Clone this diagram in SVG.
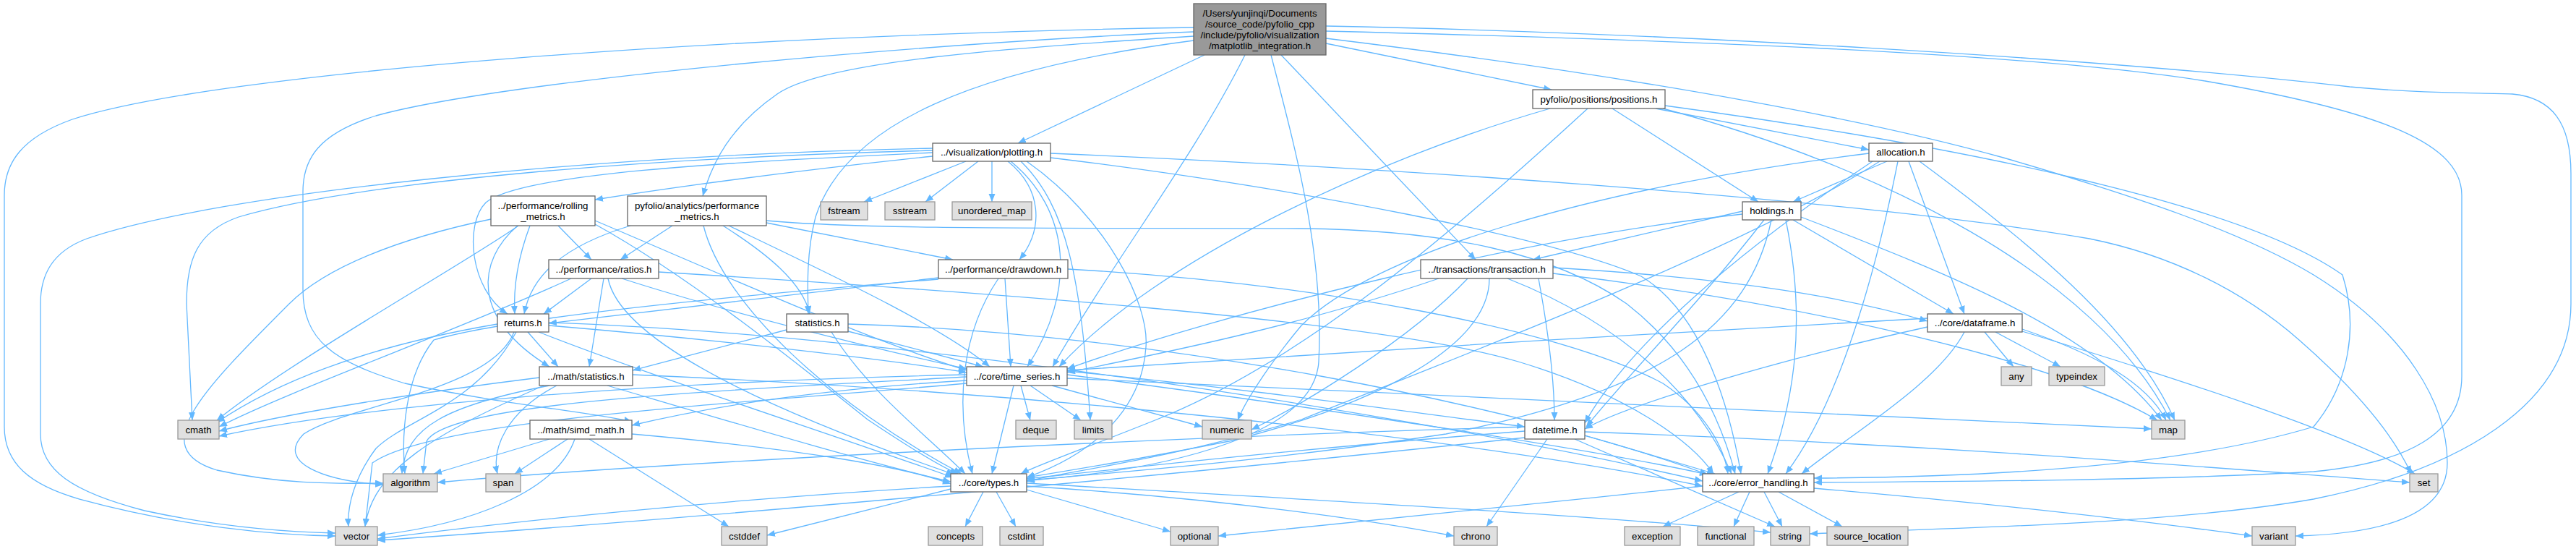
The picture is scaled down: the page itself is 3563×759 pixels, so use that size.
<svg xmlns="http://www.w3.org/2000/svg" width="3563" height="759" viewBox="0 0 3563 759">
<style>
.n rect{fill:#ffffff;stroke:#666666;stroke-width:1.3}
.x rect{fill:#e0e0e0;stroke:#999999;stroke-width:1.3}
.m rect{fill:#999999;stroke:#666666;stroke-width:1.3}
text{font-family:"Liberation Sans",Arial,Helvetica,sans-serif;font-size:13.3px;fill:#000000;text-anchor:middle}
#edges path{fill:none;stroke:#63b8ff;stroke-width:1.3;marker-end:url(#a)}
</style>
<defs><marker id="a" markerUnits="userSpaceOnUse" markerWidth="12" markerHeight="10" refX="11" refY="4.5" orient="auto"><path d="M0,0 L11,4.5 L0,9 z" fill="#63b8ff"/></marker></defs>
<rect width="3563" height="759" fill="#ffffff"/>
<g id="edges">
<path d="M1666,76 L1408,198"/>
<path d="M1651,50 C1400,66 1140,84 1075,130 C1010,175 985,225 972,271"/>
<path d="M1834,60 L2146,124"/>
<path d="M1772,76 L2041,359"/>
<path d="M1651,56 C1350,95 1170,170 1128,300 C1115,350 1117,400 1118,434"/>
<path d="M1722,76 C1650,220 1540,360 1456,507"/>
<path d="M1758,76 C1790,200 1832,350 1824,500 C1818,600 1620,650 1420,664"/>
<path d="M1834,43 C2300,55 2800,72 3050,112 C3300,155 3405,200 3405,270 L3405,520 C3405,600 3330,640 3200,652 C3000,664 2700,666 2509,667"/>
<path d="M1834,36 C2300,45 2900,80 3250,120 C3360,130 3420,128 3475,130 C3530,135 3556,170 3556,240 L3556,420 C3556,560 3400,650 3200,690 C3000,725 2700,730 2503,738"/>
<path d="M1651,38 C1000,48 300,100 100,165 C30,190 6,225 6,270 L6,590 C6,640 40,670 110,690 C250,728 380,740 464,741"/>
<path d="M1651,44 C1300,58 700,110 520,160 C440,185 419,220 419,265 L419,400 C419,470 460,500 560,530 C700,560 820,570 874,583"/>
<path d="M1834,53 C2300,110 2600,170 2771,218 C2950,270 3100,320 3200,380 C3330,460 3385,560 3385,640 C3385,710 3300,738 3175,741"/>
<path d="M1336,223 L1195,279"/>
<path d="M1353,223 L1280,279"/>
<path d="M1372,223 L1372,279"/>
<path d="M1394,223 C1440,260 1445,315 1410,359"/>
<path d="M1290,216 C1100,236 950,256 823,276"/>
<path d="M1290,211 C1000,224 720,240 672,280 C642,310 650,400 702,434"/>
<path d="M1290,208 C900,218 500,250 330,300 C272,320 258,360 258,420 L266,581"/>
<path d="M1290,205 C800,215 300,268 120,330 C72,348 56,380 56,420 L56,600 C56,650 100,680 200,706 C320,732 420,736 464,737"/>
<path d="M1398,223 C1480,290 1490,400 1421,507"/>
<path d="M1420,223 C1530,300 1590,420 1585,480 C1580,560 1520,625 1420,660"/>
<path d="M1412,223 C1475,285 1495,380 1508,581"/>
<path d="M1453,218 C1800,260 2150,330 2270,382 C2350,430 2390,550 2408,655"/>
<path d="M1453,212 C2000,235 2600,280 2890,330 C3000,352 3100,400 3180,470 C3260,540 3310,600 3335,655"/>
<path d="M930,312 L858,359"/>
<path d="M872,312 C780,340 735,380 725,434"/>
<path d="M1000,312 C1060,350 1110,390 1120,434"/>
<path d="M1060,308 L1318,359"/>
<path d="M1060,305 C1200,318 1500,315 1800,316 C2000,318 2150,350 2250,420 C2340,490 2380,580 2400,655"/>
<path d="M1008,312 C1150,380 1300,450 1369,507"/>
<path d="M973,312 C1000,420 1150,560 1330,655"/>
<path d="M772,312 L818,359"/>
<path d="M733,312 C715,360 710,400 712,434"/>
<path d="M716,312 C660,360 650,440 760,507"/>
<path d="M823,305 C1000,380 1200,470 1337,512"/>
<path d="M823,310 C950,380 1100,500 1200,580 C1260,620 1300,645 1325,655"/>
<path d="M717,312 C650,360 400,500 300,581"/>
<path d="M679,303 C550,330 450,370 400,420 C280,540 200,620 300,650 C400,672 480,668 530,668"/>
<path d="M818,385 L752,434"/>
<path d="M835,385 L815,507"/>
<path d="M860,385 C1000,430 1200,480 1337,510"/>
<path d="M841,385 C860,480 1100,580 1320,656"/>
<path d="M911,376 C1300,400 1900,440 2100,500 C2250,545 2340,610 2370,655"/>
<path d="M790,385 C650,450 400,540 303,590"/>
<path d="M1298,384 L759,447"/>
<path d="M1390,385 L1398,507"/>
<path d="M1381,385 C1330,460 1320,560 1345,655"/>
<path d="M1477,372 C1800,390 2150,450 2300,530 C2360,570 2385,620 2390,655"/>
<path d="M1298,386 C1000,410 700,440 600,470 C560,520 555,600 560,655"/>
<path d="M730,459 L772,507"/>
<path d="M759,450 C1000,470 1250,500 1337,515"/>
<path d="M745,459 C900,520 1150,600 1318,660"/>
<path d="M759,446 C1200,460 1900,560 2355,665"/>
<path d="M688,448 C500,480 380,530 300,584"/>
<path d="M711,459 C680,540 480,560 420,600 C380,640 450,665 530,670"/>
<path d="M714,459 C660,560 560,580 520,620 C490,660 480,700 482,728"/>
<path d="M1088,456 L875,512"/>
<path d="M1173,458 L1360,507"/>
<path d="M1150,459 C1200,540 1280,600 1335,655"/>
<path d="M1173,448 C1600,460 2100,560 2362,656"/>
<path d="M746,522 C600,540 400,570 303,596"/>
<path d="M760,533 C620,560 560,590 556,655"/>
<path d="M770,533 C700,570 680,620 688,655"/>
<path d="M752,533 C600,600 515,650 505,728"/>
<path d="M840,533 C1000,580 1200,640 1315,666"/>
<path d="M875,518 C1400,540 2000,600 2355,672"/>
<path d="M760,607 L600,655"/>
<path d="M785,607 L712,655"/>
<path d="M795,607 C770,680 650,725 522,740"/>
<path d="M815,607 L1008,728"/>
<path d="M874,600 C1100,620 1250,645 1315,669"/>
<path d="M1412,533 L1425,581"/>
<path d="M1425,533 L1495,581"/>
<path d="M1455,533 L1663,590"/>
<path d="M1402,533 L1372,655"/>
<path d="M1337,526 C1100,540 950,570 874,588"/>
<path d="M1337,518 C900,528 500,560 303,603"/>
<path d="M1337,521 C1000,540 620,555 590,610 L585,655"/>
<path d="M1337,530 C1000,560 600,580 515,640 L505,728"/>
<path d="M1476,523 C2000,545 2600,580 2976,593"/>
<path d="M1476,518 C1800,560 2200,620 2362,656"/>
<path d="M1476,513 C1750,540 1950,570 2109,590"/>
<path d="M1360,680 L1335,728"/>
<path d="M1378,680 L1405,728"/>
<path d="M1315,676 L1061,740"/>
<path d="M1315,672 C1000,690 700,722 522,745"/>
<path d="M1420,672 C1700,690 1900,720 2011,741"/>
<path d="M1420,668 C1800,690 2200,712 2449,736"/>
<path d="M1420,677 L1619,735"/>
<path d="M2405,680 L2300,728"/>
<path d="M2420,680 L2398,728"/>
<path d="M2440,680 L2465,728"/>
<path d="M2460,680 L2548,728"/>
<path d="M2355,672 C2100,700 1800,728 1685,741"/>
<path d="M2509,675 C2800,700 3000,725 3115,741"/>
<path d="M2140,607 L2056,728"/>
<path d="M2178,607 L2455,728"/>
<path d="M2192,602 L2372,655"/>
<path d="M2109,596 C1800,620 1550,648 1420,662"/>
<path d="M2192,597 C2700,615 3100,650 3333,667"/>
<path d="M2109,605 C1600,660 900,722 522,747"/>
<path d="M2109,590 C1600,605 900,640 605,667"/>
<path d="M2128,385 C2140,450 2150,520 2150,581"/>
<path d="M1990,385 C1800,450 1600,490 1476,515"/>
<path d="M2060,385 C2060,480 1900,560 1700,610 C1550,640 1450,655 1420,660"/>
<path d="M2085,385 C2250,450 2350,550 2395,655"/>
<path d="M2148,370 C2400,385 2550,410 2666,444"/>
<path d="M2030,385 C1950,470 1800,560 1731,594"/>
<path d="M2148,378 C2500,420 2850,500 2984,581"/>
<path d="M2290,150 L2585,207"/>
<path d="M2230,150 L2432,279"/>
<path d="M2144,150 C1900,220 1600,360 1465,507"/>
<path d="M2196,150 C2000,330 1800,500 1600,580 C1500,620 1430,645 1412,655"/>
<path d="M2303,146 C2700,200 3100,280 3240,380 C3262,450 3250,530 3200,590 C3000,650 2700,660 2509,661"/>
<path d="M2300,150 C2600,230 2900,380 3002,581"/>
<path d="M2610,223 L2480,279"/>
<path d="M2640,223 L2717,434"/>
<path d="M2655,223 C2800,330 2950,450 3008,581"/>
<path d="M2585,212 C2200,260 1900,350 1800,450 C1750,510 1720,560 1712,581"/>
<path d="M2600,223 C2400,350 2000,500 1800,580 C1600,640 1450,655 1420,666"/>
<path d="M2625,223 C2600,350 2550,550 2470,655"/>
<path d="M2590,223 C2400,350 2250,480 2192,585"/>
<path d="M2410,292 L2120,359"/>
<path d="M2480,304 L2702,434"/>
<path d="M2491,300 C2700,380 2900,460 2990,581"/>
<path d="M2440,304 C2350,420 2250,520 2194,590"/>
<path d="M2450,304 C2420,450 2300,540 2000,600 C1700,645 1500,655 1420,665"/>
<path d="M2470,304 C2500,450 2480,560 2445,655"/>
<path d="M2410,296 C2100,330 1700,430 1476,510"/>
<path d="M2745,459 L2785,507"/>
<path d="M2760,459 L2850,507"/>
<path d="M2797,455 C2900,490 2970,530 2996,581"/>
<path d="M2797,458 C3000,520 3250,600 3340,655"/>
<path d="M2717,459 C2680,530 2560,600 2492,655"/>
<path d="M2666,452 C2450,500 2250,560 2192,593"/>
<path d="M2666,440 C2300,460 1800,490 1476,512"/>
</g>
<g id="main" class="m"><rect x="1651" y="5" width="183" height="71"/><text x="1742.5" y="22.5">/Users/yunjinqi/Documents</text><text x="1742.5" y="37.5">/source_code/pyfolio_cpp</text><text x="1742.5" y="52.5">/include/pyfolio/visualization</text><text x="1742.5" y="67.5">/matplotlib_integration.h</text></g>
<g id="plotting" class="n"><rect x="1290" y="198" width="163" height="25"/><text x="1371.5" y="215">../visualization/plotting.h</text></g>
<g id="fstream" class="x"><rect x="1135" y="279" width="65" height="25"/><text x="1167.5" y="296">fstream</text></g>
<g id="sstream" class="x"><rect x="1224" y="279" width="69" height="25"/><text x="1258.5" y="296">sstream</text></g>
<g id="unordered_map" class="x"><rect x="1317" y="279" width="110" height="25"/><text x="1372" y="296">unordered_map</text></g>
<g id="performance_metrics" class="n"><rect x="868" y="271" width="192" height="41"/><text x="964" y="289">pyfolio/analytics/performance</text><text x="964" y="304">_metrics.h</text></g>
<g id="rolling_metrics" class="n"><rect x="679" y="271" width="144" height="41"/><text x="751" y="289">../performance/rolling</text><text x="751" y="304">_metrics.h</text></g>
<g id="ratios" class="n"><rect x="759" y="359" width="152" height="26"/><text x="835" y="376.5">../performance/ratios.h</text></g>
<g id="drawdown" class="n"><rect x="1298" y="359" width="179" height="26"/><text x="1387.5" y="376.5">../performance/drawdown.h</text></g>
<g id="positions" class="n"><rect x="2120" y="124" width="183" height="26"/><text x="2211.5" y="141.5">pyfolio/positions/positions.h</text></g>
<g id="allocation" class="n"><rect x="2585" y="198" width="88" height="25"/><text x="2629" y="215">allocation.h</text></g>
<g id="holdings" class="n"><rect x="2410" y="279" width="81" height="25"/><text x="2450.5" y="296">holdings.h</text></g>
<g id="transaction" class="n"><rect x="1965" y="359" width="183" height="26"/><text x="2056.5" y="376.5">../transactions/transaction.h</text></g>
<g id="returns" class="n"><rect x="688" y="434" width="71" height="25"/><text x="723.5" y="451">returns.h</text></g>
<g id="math_statistics" class="n"><rect x="746" y="507" width="129" height="26"/><text x="810.5" y="524.5">../math/statistics.h</text></g>
<g id="cmath" class="x"><rect x="246" y="581" width="57" height="26"/><text x="274.5" y="598.5">cmath</text></g>
<g id="simd_math" class="n"><rect x="733" y="581" width="141" height="26"/><text x="803.5" y="598.5">../math/simd_math.h</text></g>
<g id="algorithm" class="x"><rect x="530" y="655" width="75" height="25"/><text x="567.5" y="672">algorithm</text></g>
<g id="span" class="x"><rect x="672" y="655" width="48" height="25"/><text x="696" y="672">span</text></g>
<g id="vector" class="x"><rect x="464" y="728" width="58" height="26"/><text x="493" y="745.5">vector</text></g>
<g id="statistics" class="n"><rect x="1088" y="434" width="85" height="25"/><text x="1130.5" y="451">statistics.h</text></g>
<g id="time_series" class="n"><rect x="1337" y="507" width="139" height="26"/><text x="1406.5" y="524.5">../core/time_series.h</text></g>
<g id="deque" class="x"><rect x="1405" y="581" width="56" height="26"/><text x="1433" y="598.5">deque</text></g>
<g id="limits" class="x"><rect x="1486" y="581" width="52" height="26"/><text x="1512" y="598.5">limits</text></g>
<g id="numeric" class="x"><rect x="1663" y="581" width="68" height="26"/><text x="1697" y="598.5">numeric</text></g>
<g id="types" class="n"><rect x="1315" y="655" width="105" height="25"/><text x="1367.5" y="672">../core/types.h</text></g>
<g id="cstddef" class="x"><rect x="998" y="728" width="63" height="26"/><text x="1029.5" y="745.5">cstddef</text></g>
<g id="concepts" class="x"><rect x="1284" y="728" width="75" height="26"/><text x="1321.5" y="745.5">concepts</text></g>
<g id="cstdint" class="x"><rect x="1383" y="728" width="60" height="26"/><text x="1413" y="745.5">cstdint</text></g>
<g id="optional" class="x"><rect x="1619" y="728" width="66" height="26"/><text x="1652" y="745.5">optional</text></g>
<g id="datetime" class="n"><rect x="2109" y="581" width="83" height="26"/><text x="2150.5" y="598.5">datetime.h</text></g>
<g id="error_handling" class="n"><rect x="2355" y="655" width="154" height="25"/><text x="2432" y="672">../core/error_handling.h</text></g>
<g id="chrono" class="x"><rect x="2011" y="728" width="60" height="26"/><text x="2041" y="745.5">chrono</text></g>
<g id="exception" class="x"><rect x="2247" y="728" width="77" height="26"/><text x="2285.5" y="745.5">exception</text></g>
<g id="functional" class="x"><rect x="2348" y="728" width="78" height="26"/><text x="2387" y="745.5">functional</text></g>
<g id="string" class="x"><rect x="2449" y="728" width="54" height="26"/><text x="2476" y="745.5">string</text></g>
<g id="source_location" class="x"><rect x="2527" y="728" width="112" height="26"/><text x="2583" y="745.5">source_location</text></g>
<g id="dataframe" class="n"><rect x="2666" y="434" width="131" height="25"/><text x="2731.5" y="451">../core/dataframe.h</text></g>
<g id="any" class="x"><rect x="2768" y="507" width="42" height="26"/><text x="2789" y="524.5">any</text></g>
<g id="typeindex" class="x"><rect x="2834" y="507" width="77" height="26"/><text x="2872.5" y="524.5">typeindex</text></g>
<g id="map" class="x"><rect x="2976" y="581" width="46" height="26"/><text x="2999" y="598.5">map</text></g>
<g id="set" class="x"><rect x="3333" y="655" width="39" height="25"/><text x="3352.5" y="672">set</text></g>
<g id="variant" class="x"><rect x="3115" y="728" width="60" height="26"/><text x="3145" y="745.5">variant</text></g>
</svg>
